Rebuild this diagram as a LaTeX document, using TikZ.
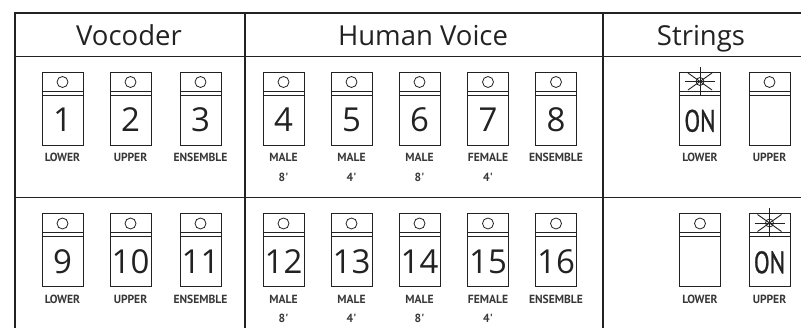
\documentclass[tikz,border=0pt]{standalone}
\usepackage{fontspec}
\setmainfont{Open Sans}
\newfontfamily\lblfont[FakeStretch=0.98]{PT Sans Bold}
\newfontfamily\onfont[FakeStretch=0.74, FakeBold=0.8]{PT Sans}
\definecolor{ink}{HTML}{222222}
\tikzset{
  frame/.style={line width=1.6pt, draw=ink},
  btnbox/.style={draw=ink, line width=0.9pt, minimum width=41pt, minimum height=73pt, inner sep=0pt, outer sep=0pt, anchor=north west},
  btnline/.style={draw=ink, line width=0.9pt},
  lamp/.style={circle, draw=ink, line width=0.8pt, minimum size=11pt, inner sep=0pt},
  digit/.style={font=\fontsize{33}{33}\selectfont, text=ink, anchor=base, inner sep=0pt},
  onlbl/.style={font=\onfont\fontsize{31}{31}\selectfont, text=ink, anchor=base, inner sep=0pt},
  lbl/.style={font=\lblfont\fontsize{11.8}{11.8}\selectfont, text=ink!90, anchor=base, inner sep=0pt},
  head/.style={font=\fontsize{27.5}{27.5}\selectfont, text=ink, anchor=base, inner sep=0pt},
  starline/.style={draw=ink, line width=0.9pt}
}
\newcommand\mybtnbody[3]{%
  \node[btnbox] (#1) at (#2,#3) {};
  \draw[btnline] ([yshift=-19pt]#1.north west) -- ([yshift=-19pt]#1.north east);
  \draw[btnline] ([yshift=-23pt]#1.north west) -- ([yshift=-23pt]#1.north east);
}
\newcommand\mybtn[6]{%
  \mybtnbody{#1}{#2}{#3}
  \node[lamp] (#1c) at ([yshift=-10pt]#1.north) {};
  \node[digit] (#1d) at ([yshift=-60pt]#1.north) {#4};
  \node[lbl] (#1l) at ([yshift=-89.8pt]#1.north) {#5};
  \node[lbl] (#1m) at ([yshift=-109.5pt]#1.north) {#6};
}
\newcommand\onbtn[4]{%
  \mybtnbody{#1}{#2}{#3}
  \node[lamp, minimum size=8pt] (#1s) at ([yshift=-9.5pt]#1.north) {};
  \draw[starline] ([xshift=-15pt]#1s.center) -- ([xshift=15pt]#1s.center);
  \draw[starline] ([yshift=14.5pt]#1s.center) -- ([yshift=-14pt]#1s.center);
  \draw[starline] ([xshift=-12pt,yshift=8.5pt]#1s.center) -- ([xshift=12pt,yshift=-8.5pt]#1s.center);
  \draw[starline] ([xshift=-12pt,yshift=-8.5pt]#1s.center) -- ([xshift=12pt,yshift=8.5pt]#1s.center);
  \node[onlbl] (#1d) at ([yshift=-59.7pt]#1.north) {ON};
  \node[lbl] (#1l) at ([yshift=-89.8pt]#1.north) {#4};
}
\newcommand\ft{\textquotesingle}
\begin{document}
\begin{tikzpicture}[x=1pt,y=-1pt]
\useasboundingbox (0,0) rectangle (801,328);
% frame
\draw[frame, line cap=rect] (15,328) -- (15,13) -- (803,13);
\draw[frame] (245,13) -- (245,330);
\draw[frame] (603,13) -- (603,330);
\draw[frame] (15,56.7) -- (803,56.7);
\draw[frame] (15,197.7) -- (803,197.7);
% headers
\node[head] (hv) at (129,45.5) {Vocoder};
\node[head] (hh) at (423,45.5) {Human Voice};
\node[head] (hs) at (701,45.5) {Strings};
% top row
\mybtn{b1}{42}{72}{1}{LOWER}{}
\mybtn{b2}{110}{72}{2}{UPPER}{}
\mybtn{b3}{180}{72}{3}{ENSEMBLE}{}
\mybtn{b4}{263}{72}{4}{MALE}{8\ft}
\mybtn{b5}{331}{72}{5}{MALE}{4\ft}
\mybtn{b6}{399}{72}{6}{MALE}{8\ft}
\mybtn{b7}{467.5}{72}{7}{FEMALE}{4\ft}
\mybtn{b8}{535.5}{72}{8}{ENSEMBLE}{}
\onbtn{s1}{679.5}{72}{LOWER}
\mybtn{s2}{749}{72}{}{UPPER}{}
% bottom row
\mybtn{b9}{42}{213.5}{9}{LOWER}{}
\mybtn{b10}{110}{213.5}{10}{UPPER}{}
\mybtn{b11}{180}{213.5}{11}{ENSEMBLE}{}
\mybtn{b12}{263}{213.5}{12}{MALE}{8\ft}
\mybtn{b13}{331}{213.5}{13}{MALE}{4\ft}
\mybtn{b14}{399}{213.5}{14}{MALE}{8\ft}
\mybtn{b15}{467.5}{213.5}{15}{FEMALE}{4\ft}
\mybtn{b16}{535.5}{213.5}{16}{ENSEMBLE}{}
\mybtn{s3}{679.5}{213.5}{}{LOWER}{}
\onbtn{s4}{749}{213.5}{UPPER}
\end{tikzpicture}
\end{document}
